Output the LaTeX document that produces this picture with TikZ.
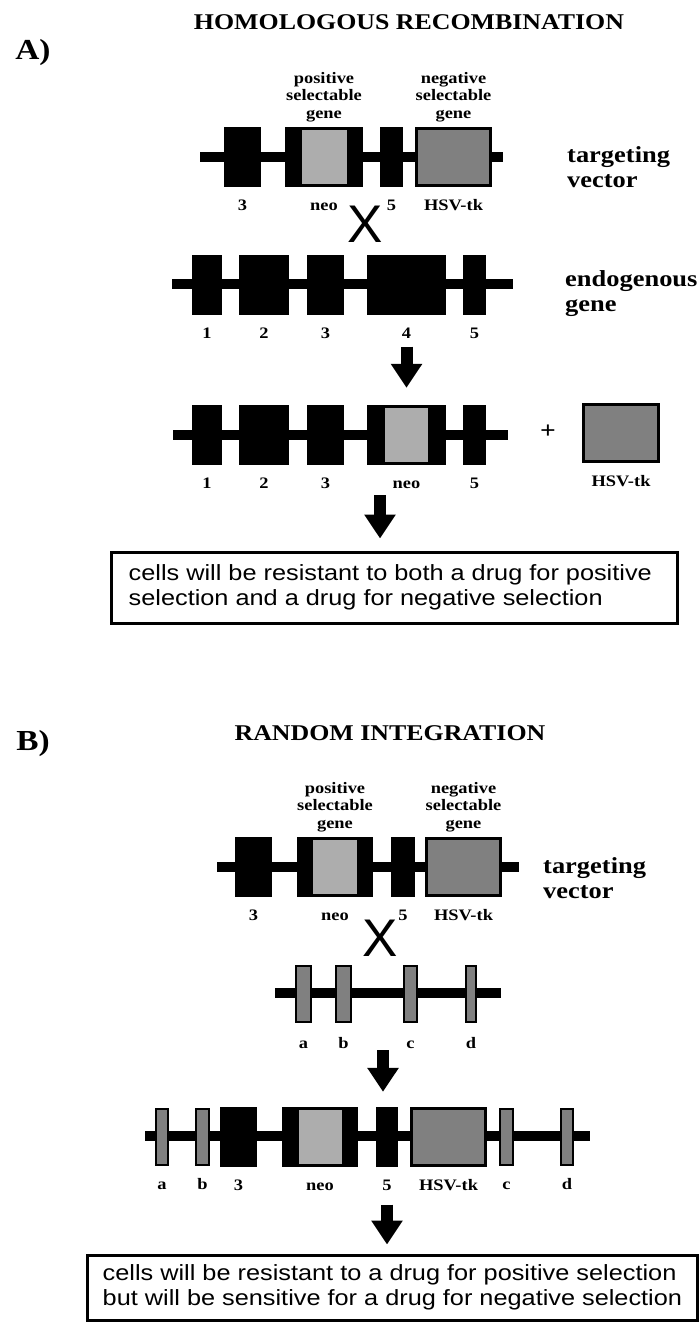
\documentclass[tikz,border=0pt]{standalone}
\usepackage{fontspec}
\setmainfont{Liberation Serif}[FakeStretch=1.15]
\newfontfamily\boxfont{Liberation Sans}[FakeStretch=1.15]
\newfontfamily\xfont{Liberation Sans}
\usepackage{tikz}
\usetikzlibrary{arrows.meta,positioning}
\definecolor{neogray}{gray}{0.68}
\definecolor{tkgray}{gray}{0.5}
\def\exonh{60pt}

\begin{document}
\begin{tikzpicture}[x=1pt,y=-1pt,node distance=12pt]
    \tikzstyle{backbone}=[line width=10pt]
    \tikzstyle{exon}=[rectangle,fill=black,inner sep=0pt,minimum height=\exonh]
    \tikzstyle{neo}=[rectangle,fill=neogray,inner sep=0pt,minimum height=54pt]
    \tikzstyle{tk}=[rectangle,draw=black,line width=3pt,fill=tkgray,inner sep=0pt,minimum width=74pt,minimum height=57pt]
    \tikzstyle{site}=[rectangle,draw=black,line width=2pt,fill=tkgray,inner sep=0pt,minimum height=56pt]
    \tikzstyle{num}=[inner sep=0pt,text height=11pt,text depth=0pt,font=\bfseries\fontsize{16}{17.5}\selectfont]
    \tikzstyle{annot}=[inner sep=0pt,align=center,font=\bfseries\fontsize{16}{17.5}\selectfont]
    \tikzstyle{sidelabel}=[inner sep=0pt,align=left,anchor=west,font=\bfseries\fontsize{23}{25}\selectfont]
    \tikzstyle{heading}=[inner sep=0pt,font=\bfseries\fontsize{22.5}{25}\selectfont]
    \tikzstyle{panel}=[inner sep=0pt,font=\bfseries\fontsize{29}{30}\selectfont]
    \tikzstyle{crossmark}=[inner sep=0pt,font=\xfont\fontsize{53}{53}\selectfont]
    \tikzstyle{downarrow}=[line width=12pt,-{Triangle[length=24pt,width=30pt]}]
    \tikzstyle{resultbox}=[rectangle,draw=black,line width=3pt,fill=white,inner sep=0pt]
    \tikzstyle{resulttext}=[inner sep=0pt,align=left,font=\boxfont\fontsize{22}{25}\selectfont]

    \useasboundingbox (0,0) rectangle (699,1322);

    % A) homologous recombination
    \node[panel] (A) at (33,53) {A)};
    \node[heading] (HA) at (409,22) {HOMOLOGOUS RECOMBINATION};

    % targeting vector
    \coordinate (TA-start) at (200,157);
    \coordinate (TA-end) at (503,157);
    \draw[backbone] (TA-start) -- (TA-end);
    \foreach \name/\x/\w in {3/242.5/37, neo/324/78, 5/391.5/23}
        \node[exon, minimum width=\w pt] (TA-\name) at (\x,157) {};
    \node[neo, minimum width=45pt] (TA-neo-in) at (TA-neo) {};
    \node[tk] (TA-tk) at (453.5,157) {};
    \foreach \name/\lbl in {3/3, neo/neo, 5/5, tk/HSV-tk}
        \node[num, below=of TA-\name] (TA-L\name) {\lbl};
    \node[annot, above=5pt of TA-neo] (TA-pos) {positive\\selectable\\gene};
    \node[annot, above=5pt of TA-tk] (TA-neg) {negative\\selectable\\gene};
    \node[sidelabel] (TA-name) at (567,167) {targeting\\vector};

    \node[crossmark] (XA) at (365,224) {X};

    % endogenous gene
    \coordinate (EA-start) at (172,284);
    \coordinate (EA-end) at (513,284);
    \draw[backbone] (EA-start) -- (EA-end);
    \foreach \name/\x/\w in {1/207/30, 2/264/50, 3/325.5/37, 4/406.5/79, 5/474.5/23}
        \node[exon, minimum width=\w pt] (EA-\name) at (\x,285) {};
    \foreach \name in {1,...,5}
        \node[num, below=of EA-\name] (EA-L\name) {\name};
    \node[sidelabel] (EA-name) at (565,294) {endogenous\\gene};

    % recombined gene
    \coordinate (RA-start) at (173,435);
    \coordinate (RA-end) at (508,435);
    \draw[backbone] (RA-start) -- (RA-end);
    \foreach \name/\x/\w in {1/207/30, 2/264/50, 3/325.5/37, 4/406.5/79, 5/474.5/23}
        \node[exon, minimum width=\w pt] (RA-\name) at (\x,435) {};
    \node[neo, minimum width=43pt] (RA-neo) at (RA-4) {};
    \foreach \name/\lbl in {1/1, 2/2, 3/3, 4/neo, 5/5}
        \node[num, below=of RA-\name] (RA-L\name) {\lbl};
    \node[inner sep=0pt, font=\bfseries\fontsize{24}{24}\selectfont] (plus) at (548,432) {+};
    \node[tk, minimum width=75pt] (RA-tk) at (621,433) {};
    \node[num, below=of RA-tk] (RA-Ltk) {HSV-tk};

    \node[resultbox, minimum width=566pt, minimum height=71pt] (boxA) at (394,587.5) {};
    \node[resulttext, anchor=west, right=19pt of boxA.west] (textA)
        {cells will be resistant to both a drug for positive\\selection and a drug for negative selection};

    % B) random integration
    \node[panel] (B) at (33,744) {B)};
    \node[heading] (HB) at (390,733) {RANDOM INTEGRATION};

    % targeting vector
    \coordinate (TB-start) at (217,867);
    \coordinate (TB-end) at (519,867);
    \draw[backbone] (TB-start) -- (TB-end);
    \foreach \name/\x/\w in {3/253.5/37, neo/335/76, 5/403/24}
        \node[exon, minimum width=\w pt] (TB-\name) at (\x,867) {};
    \node[neo, minimum width=44pt] (TB-neo-in) at (TB-neo) {};
    \node[tk] (TB-tk) at (463.5,867) {};
    \foreach \name/\lbl in {3/3, neo/neo, 5/5, tk/HSV-tk}
        \node[num, below=of TB-\name] (TB-L\name) {\lbl};
    \node[annot, above=5pt of TB-neo] (TB-pos) {positive\\selectable\\gene};
    \node[annot, above=5pt of TB-tk] (TB-neg) {negative\\selectable\\gene};
    \node[sidelabel] (TB-name) at (543,878) {targeting\\vector};

    \node[crossmark] (XB) at (380,938) {X};

    % random chromosomal site
    \coordinate (GB-start) at (275,993);
    \coordinate (GB-end) at (501,993);
    \draw[backbone] (GB-start) -- (GB-end);
    \foreach \name/\x/\w in {a/303.5/15, b/343.5/15, c/410.5/13, d/471/10}
        \node[site, minimum width=\w pt] (GB-\name) at (\x,994) {};
    \foreach \name in {a,b,c,d}
        \node[num, below=14pt of GB-\name] (GB-L\name) {\name};

    % integrated vector
    \coordinate (CB-start) at (145,1136);
    \coordinate (CB-end) at (590,1136);
    \draw[backbone] (CB-start) -- (CB-end);
    \foreach \name/\x/\w in {3/238.5/37, neo/320/76, 5/387/22}
        \node[exon, minimum width=\w pt] (CB-\name) at (\x,1137) {};
    \node[neo, minimum width=43pt] (CB-neo-in) at (CB-neo) {};
    \node[tk] (CB-tk) at (448.5,1137) {};
    \foreach \name/\x/\w in {a/162/12, b/202.5/13, c/506.5/13, d/567/12}
        \node[site, minimum width=\w pt] (CB-\name) at (\x,1137) {};
    \foreach \name/\lbl in {a/a, b/b, 3/3, neo/neo, 5/5, tk/HSV-tk, c/c, d/d}
        \node[num, below=of CB-\name] (CB-L\name) {\lbl};

    \node[resultbox, minimum width=610pt, minimum height=65pt] (boxB) at (392,1287.5) {};
    \node[resulttext, anchor=west, right=17pt of boxB.west] (textB)
        {cells will be resistant to a drug for positive selection\\but will be sensitive for a drug for negative selection};

    % arrows
    \draw[downarrow, shorten <=8pt, shorten >=17pt] (EA-L4.south) -- (EA-L4.south |- RA-4.north);
    \coordinate (A2-start) at (380,495);
    \draw[downarrow, shorten >=12pt] (A2-start) -- (A2-start |- boxA.north);
    \coordinate (B1-start) at (383,1050);
    \draw[downarrow, shorten >=15pt] (B1-start) -- (B1-start |- CB-neo.north);
    \draw[downarrow, shorten <=14pt, shorten >=9pt] (CB-L5.south) -- (CB-L5.south |- boxB.north);

\end{tikzpicture}
\end{document}
